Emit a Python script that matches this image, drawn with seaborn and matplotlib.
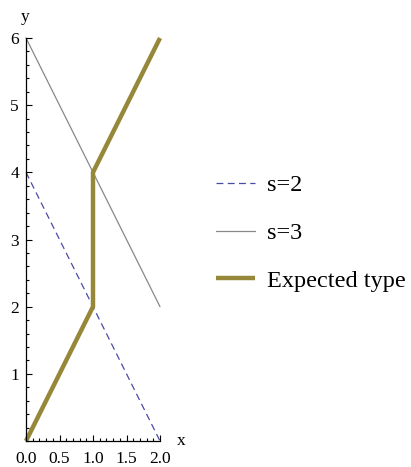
import matplotlib
matplotlib.use("Agg")
import matplotlib.pyplot as plt
import seaborn as sns
import pandas as pd
from matplotlib.ticker import MultipleLocator, FixedLocator

sns.set_style("white")
plt.rcParams['font.family'] = ['Liberation Serif', 'DejaVu Serif']
plt.rcParams['text.color'] = 'black'
plt.rcParams['xtick.color'] = 'black'
plt.rcParams['ytick.color'] = 'black'

# data
s2_x = [0, 2]
s2_y = [4, 0]
s3_x = [0, 2]
s3_y = [6, 2]
exp_x = [0, 1, 1, 2]
exp_y = [0, 2, 4, 6]
series_names = ["s=2", "s=3", "Expected type"]
x_ticks = [0.0, 0.5, 1.0, 1.5, 2.0]
x_tick_labels = ["0.0", "0.5", "1.0", "1.5", "2.0"]
y_ticks = [1, 2, 3, 4, 5, 6]

fig = plt.figure(figsize=(4.11, 4.67), dpi=100)
ax = fig.add_axes([26/411, 26/467, 134/411, 403/467])

df2 = pd.DataFrame({"x": s2_x, "y": s2_y})
df3 = pd.DataFrame({"x": s3_x, "y": s3_y})
dfe = pd.DataFrame({"x": exp_x, "y": exp_y})

sns.lineplot(data=df2, x="x", y="y", ax=ax, color="#4a4aa8", lw=0.9,
             linestyle=(0, (5.5, 3.5)), label=series_names[0], clip_on=False)
sns.lineplot(data=df3, x="x", y="y", ax=ax, color="#888888", lw=0.9,
             label=series_names[1], clip_on=False)
sns.lineplot(data=dfe, x="x", y="y", ax=ax, color="#978738", lw=3.2,
             sort=False, estimator=None, label=series_names[2], clip_on=False,
             solid_capstyle="butt", solid_joinstyle="miter")

ax.set_xlim(0, 2)
ax.set_ylim(0, 6)
for s in ["top", "right"]:
    ax.spines[s].set_visible(False)
for s in ["left", "bottom"]:
    ax.spines[s].set_linewidth(0.9)
    ax.spines[s].set_color("black")

ax.xaxis.set_major_locator(FixedLocator(x_ticks))
ax.set_xticklabels(x_tick_labels)
ax.xaxis.set_minor_locator(MultipleLocator(0.1))
ax.yaxis.set_major_locator(FixedLocator(y_ticks))
ax.set_yticklabels([str(v) for v in y_ticks])
ax.yaxis.set_minor_locator(MultipleLocator(0.2))
ax.tick_params(which="both", direction="in", bottom=True, left=True,
               labelsize=12.5, width=0.8, color="black", labelcolor="black")
ax.tick_params(axis="x", which="major", pad=7)
ax.tick_params(axis="y", which="major", pad=5)
ax.tick_params(which="major", length=4)
ax.tick_params(which="minor", length=2.2)
ax.set_xlabel("")
ax.set_ylabel("")
ax.text(2.25, 0, "x", fontsize=12.5, va="center", ha="left", color="black",
        transform=ax.transData, clip_on=False)
ax.text(-0.01, 6.2, "y", fontsize=12.5, va="bottom", ha="center", color="black",
        transform=ax.transData, clip_on=False)

h, l = ax.get_legend_handles_labels()
ax.legend_.remove()
leg = fig.legend(h, l, loc="center left", bbox_to_anchor=(206/411, 1 - 233/467),
                 frameon=False, fontsize=17.5, handlelength=1.6, handletextpad=0.5,
                 labelspacing=1.05, borderaxespad=0)
for t in leg.get_texts():
    t.set_color("black")

fig.savefig("out.png", dpi=100)
